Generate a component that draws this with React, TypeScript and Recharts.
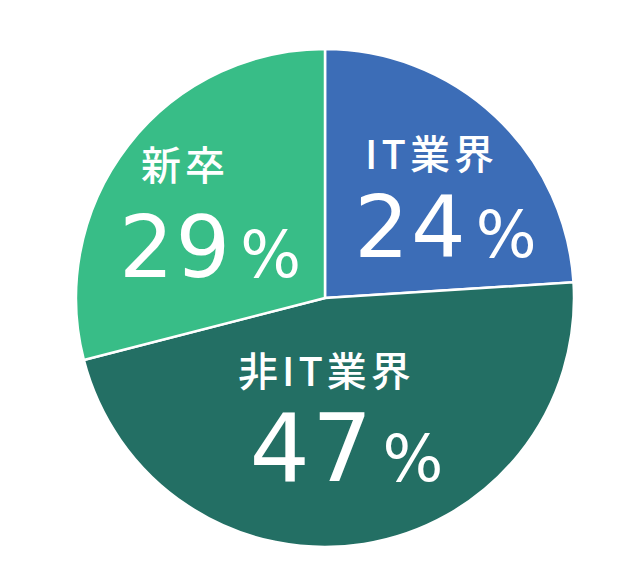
import React from 'react';
import { PieChart, Pie, Cell } from 'recharts';

// shares of hires by background (%)
const CATEGORIES = ['IT業界', '非IT業界', '新卒'];
const SHARES = [24, 47, 29];
const COLORS = ['#3c6db7', '#236f64', '#38bd87'];

const chartData = CATEGORIES.map((name, i) => ({ name, value: SHARES[i] }));

// label placement relative to each slice's mid angle
const LABEL_LAYOUT: Record<string, { r: number; shift: number; numSize: number; nameDx: number; nameDy: number }> = {
  'IT業界': { r: 145, shift: -13, numSize: 86, nameDx: -14, nameDy: -48 },
  '非IT業界': { r: 145, shift: -0.5, numSize: 95, nameDx: -20, nameDy: -55 },
  '新卒': { r: 130, shift: 10, numSize: 86, nameDx: -25, nameDy: -57 },
};

const RAD = Math.PI / 180;

const renderLabel = (props: any) => {
  const { cx, cy, midAngle, name, value } = props;
  const layout = LABEL_LAYOUT[name];
  const a = (midAngle + layout.shift) * RAD;
  const x = cx + layout.r * Math.cos(a);
  const y = cy - layout.r * Math.sin(a);
  return (
    <g>
      <text
        x={x + layout.nameDx}
        y={y + layout.nameDy}
        textAnchor="middle"
        fill="#fff"
        fontFamily="'Noto Sans CJK JP', sans-serif"
        fontSize={40}
        fontWeight={500}
        letterSpacing={4}
      >
        {name}
      </text>
      <text x={x} y={y + 40} textAnchor="middle" fill="#fff" fontFamily="'DejaVu Sans', sans-serif">
        <tspan fontSize={layout.numSize} letterSpacing={2}>{value}</tspan>
        <tspan fontSize={64} dx={8}>%</tspan>
      </text>
    </g>
  );
};

const App: React.FC = () => {
  return (
    <div style={{ width: 624, height: 569, background: '#fff' }}>
      <PieChart width={624} height={569} margin={{ top: 0, right: 0, bottom: 0, left: 0 }}>
        <Pie
          data={chartData}
          dataKey="value"
          nameKey="name"
          cx={317}
          cy={290}
          outerRadius={249}
          startAngle={90}
          endAngle={-270}
          stroke="#ffffff"
          strokeWidth={2.5}
          label={renderLabel}
          labelLine={false}
          isAnimationActive={false}
        >
          {chartData.map((entry, index) => (
            <Cell key={`cell-${index}`} fill={COLORS[index]} />
          ))}
        </Pie>
      </PieChart>
    </div>
  );
};

export default App;
